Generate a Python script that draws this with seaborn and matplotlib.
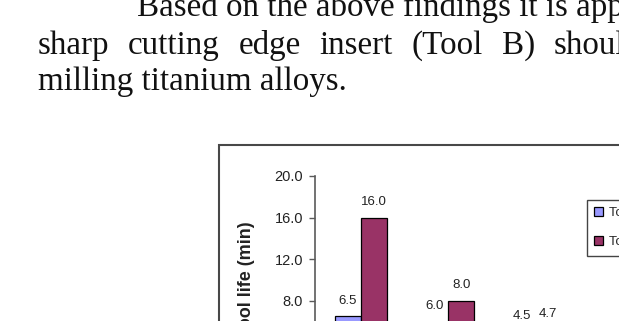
import numpy as np
import pandas as pd
import seaborn as sns
from matplotlib import pyplot as plt
from matplotlib.patches import Rectangle

W, H = 619, 321

# === DATA ===
conditions = ['Condition 1', 'Condition 2', 'Condition 3']
tools = ['Tool A', 'Tool B']
tool_a_life = [6.5, 6.0, 4.5]
tool_b_life = [16.0, 8.0, 4.7]
y_ticks = [0.0, 4.0, 8.0, 12.0, 16.0, 20.0]
colors = ['#9999FF', '#993366']

line_1 = 'Based on the above findings it is apparent'
line_2 = ['sharp', 'cutting', 'edge', 'insert', '(Tool', 'B)', 'should']
line_3 = 'milling titanium alloys.'


# === FUNC ===

def fx(px):
    return px / W


def fy(py):
    return 1 - py / H


# === CODE ===
sns.set_style('white')
plt.rcParams['font.family'] = ['Liberation Sans', 'DejaVu Sans']

fig = plt.figure(figsize=(W / 100, H / 100), dpi=100)
fig.patch.set_facecolor('white')

# page text above the figure
serif = dict(family=['Liberation Serif', 'DejaVu Serif'], size=23.76,
             color='#111111', va='baseline', ha='left')
fig.text(fx(137), fy(16), line_1, **serif)
renderer = fig.canvas.get_renderer()
x = 38
for word in line_2:  # justified line -> wide gaps
    t = fig.text(fx(x), fy(54), word, **serif)
    x += t.get_window_extent(renderer).width + 18.7
fig.text(fx(38), fy(90), line_3, **serif)

# outer chart border (runs off the page crop)
fig.add_artist(Rectangle((fx(219), fy(145) - 1), 1, 1,
                         transform=fig.transFigure, fill=False,
                         edgecolor='#484848', linewidth=1.5))

ax = fig.add_axes([fx(315), fy(384), 261 / W, 208 / H])
ax.set_facecolor('none')

df = pd.DataFrame({
    'condition': conditions * 2,
    'tool': [tools[0]] * len(conditions) + [tools[1]] * len(conditions),
    'life': tool_a_life + tool_b_life})

sns.barplot(data=df, x='condition', y='life', hue='tool',
            palette=colors, width=0.6, saturation=1, errorbar=None,
            edgecolor='black', linewidth=0.9, ax=ax)

ax.set_xlim(-0.53, 2.47)
ax.set_ylim(0, 20)
ax.set_yticks(y_ticks)
ax.set_yticklabels([f'{v:.1f}' for v in y_ticks])
ax.set_xlabel('')
for side in ['top', 'right']:
    ax.spines[side].set_visible(False)
for side in ['left', 'bottom']:
    ax.spines[side].set_color('#5a5a5a')
    ax.spines[side].set_linewidth(1.2)
ax.tick_params(axis='y', left=True, direction='out', length=4.5, width=1,
               color='#5a5a5a', pad=4, labelsize=10.5, labelcolor='#222222')

ax.set_ylabel('Tool life (min)', fontsize=13, fontweight='bold',
              color='#222222')
ax.yaxis.label.set_va('center')
ax.yaxis.set_label_coords(-0.262, 0.5)

for cont in ax.containers:
    labels = ax.bar_label(cont, fmt='%.1f', padding=7, fontsize=9.5,
                          color='#222222')
    labels[-1].xyann = (0, 11)

handles, labels = ax.get_legend_handles_labels()
leg = ax.legend(handles, labels, loc='upper left',
                bbox_to_anchor=(fx(587), fy(200)),
                bbox_transform=fig.transFigure, borderaxespad=0,
                frameon=True, fancybox=False, framealpha=1,
                edgecolor='#444444', fontsize=9.5, handlelength=0.65,
                handleheight=0.65, handletextpad=0.45, labelspacing=1.3,
                borderpad=0.55)
leg.get_frame().set_linewidth(1)

fig.savefig('out.png', dpi=100)
